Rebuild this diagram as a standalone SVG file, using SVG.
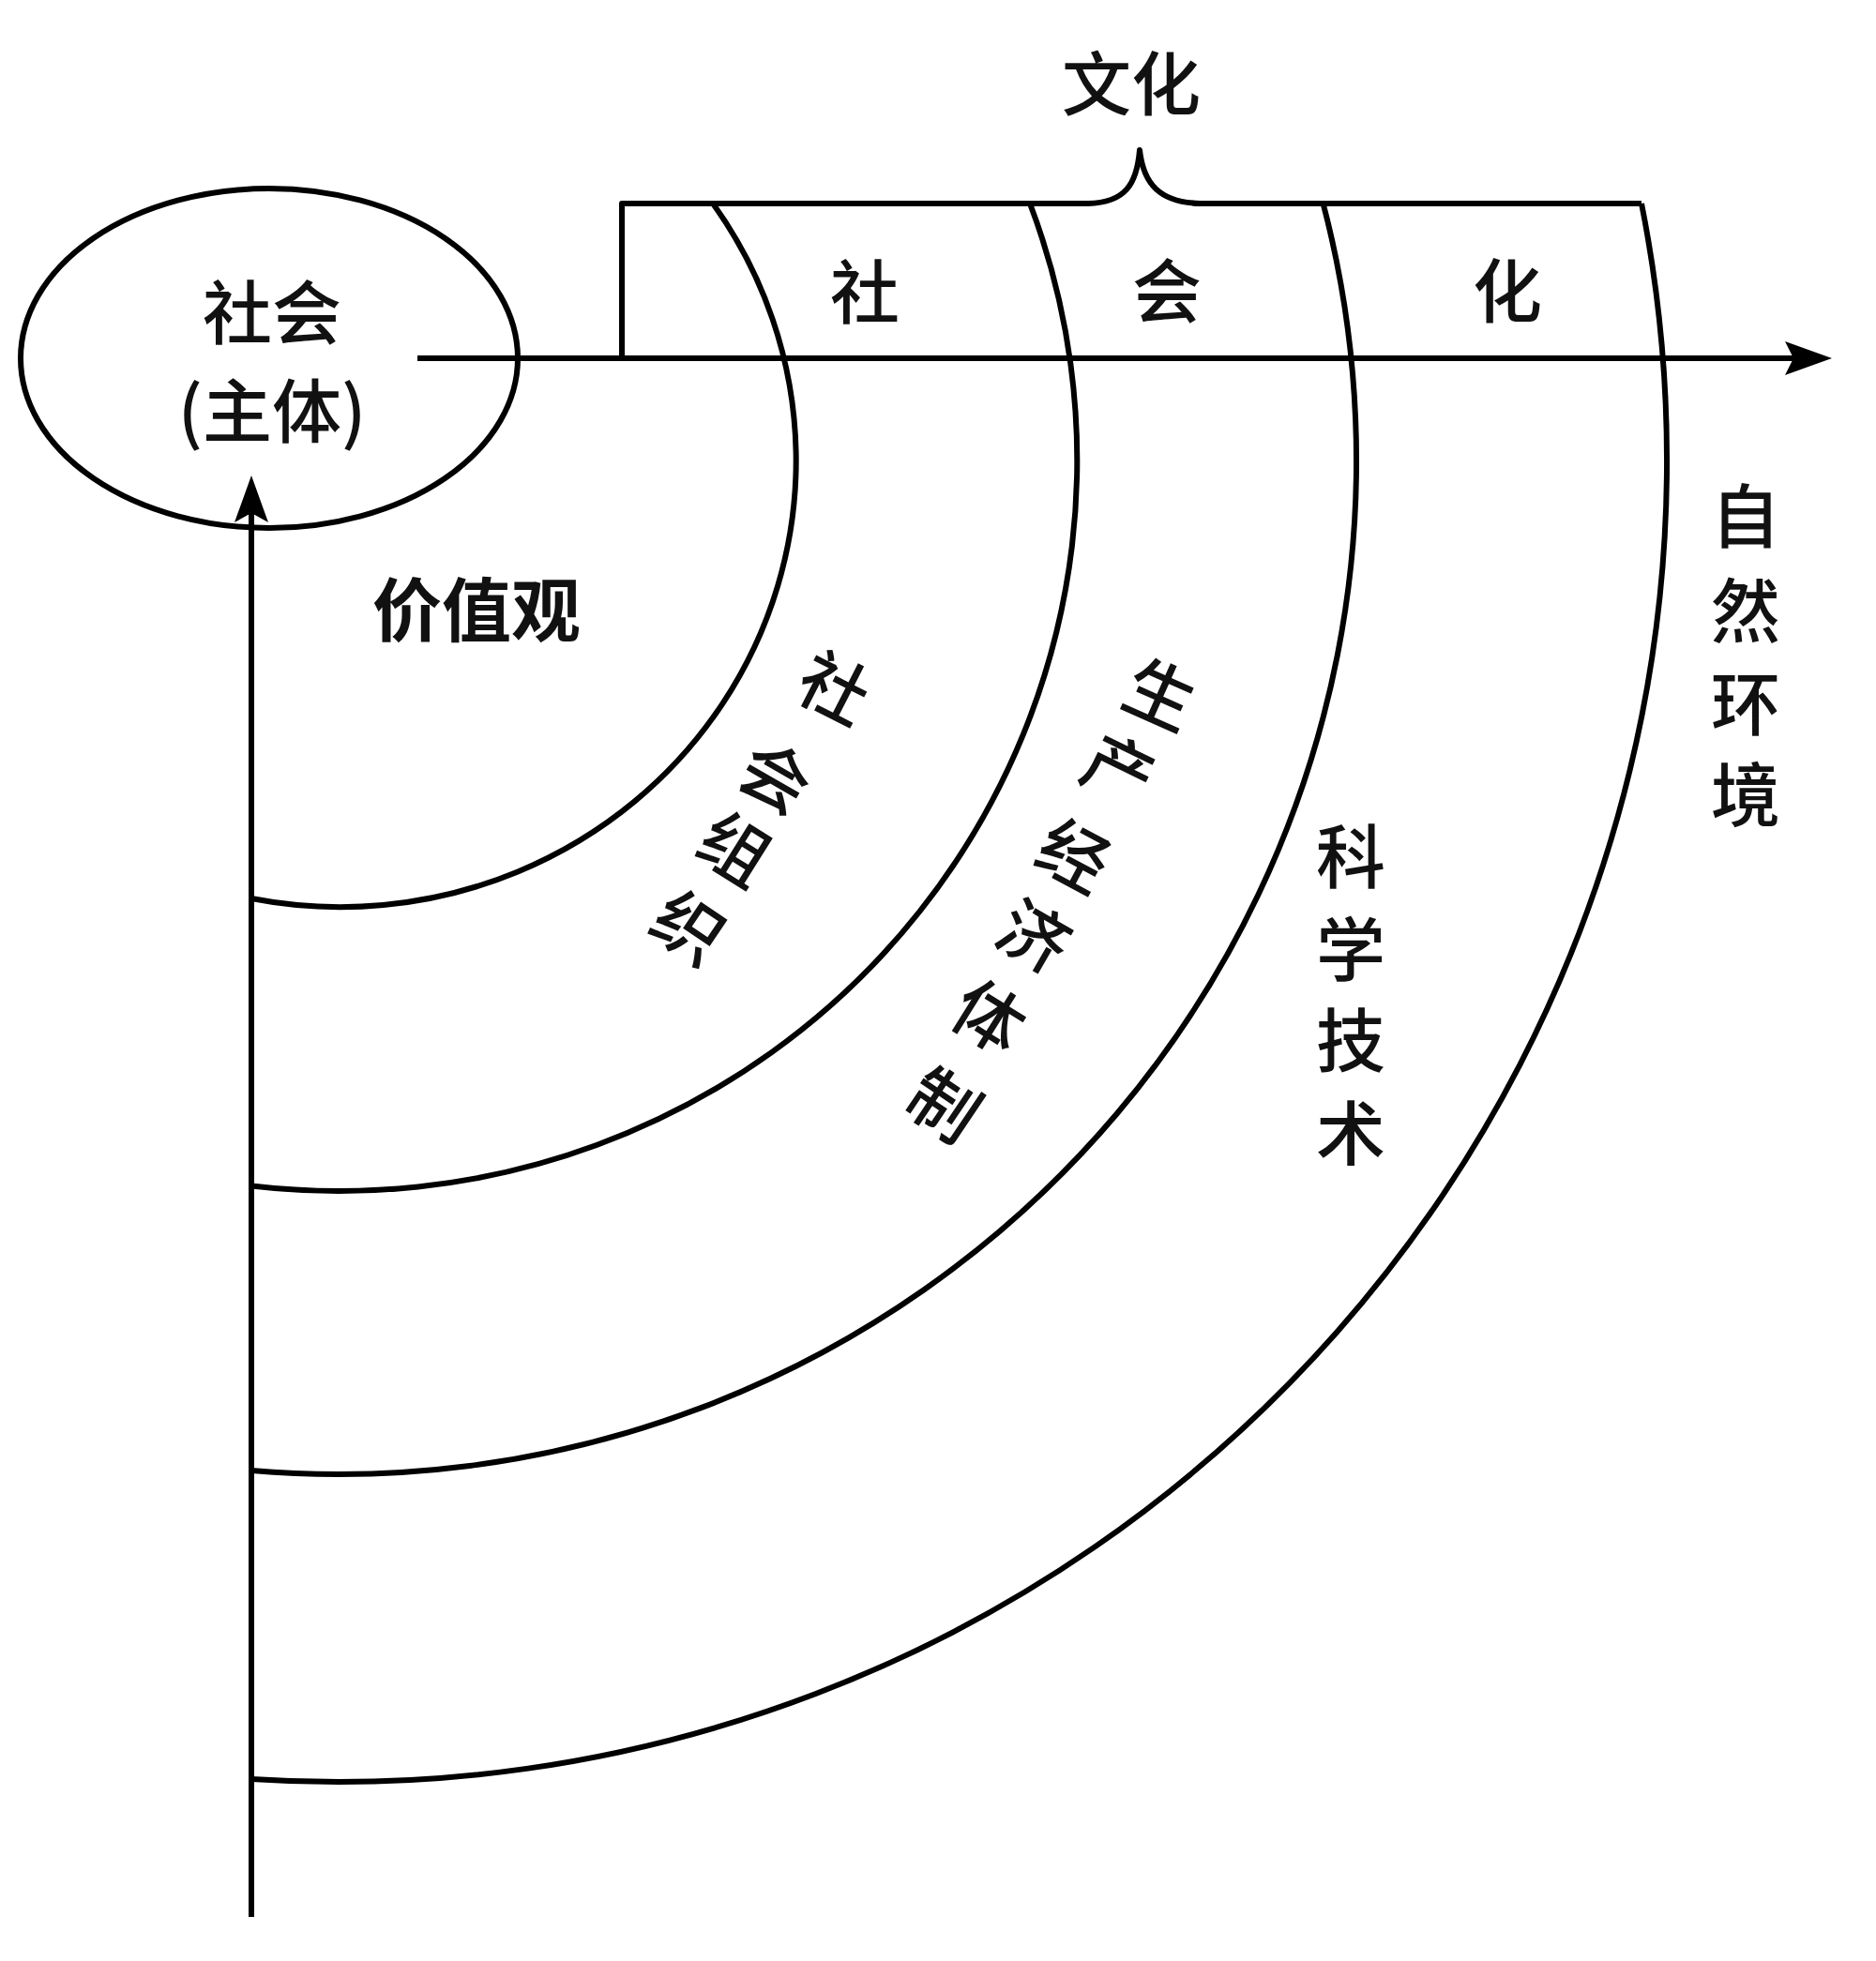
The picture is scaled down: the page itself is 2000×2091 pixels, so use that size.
<svg xmlns="http://www.w3.org/2000/svg" width="2000" height="2091" viewBox="0 0 2000 2091">
<style>
.ln{fill:none;stroke:#000;stroke-width:6;stroke-linecap:butt;stroke-linejoin:round}
.ah{fill:#000;stroke:none}
.t{font-family:"Noto Sans CJK SC","Noto Sans",sans-serif;font-size:74px;fill:#111;text-anchor:middle;dominant-baseline:central;font-weight:500}
.b{font-weight:700}
</style>
<rect width="2000" height="2091" fill="#fff"/>
<g id="connectors">
<path id="h-axis" class="ln" d="M445,382 H1912"/>
<polygon class="ah" points="1953,382 1903,364 1912,382 1903,400"/>
<path id="v-axis" class="ln" d="M268,2044 V547"/>
<polygon class="ah" points="268,507 250,557 268,547 286,557"/>
<path id="bracket" class="ln" d="M663,382 V217 H1160 C1200,216 1212,196 1215,160 C1219,196 1236,216 1280,217 H1750"/>
<path id="arc1" class="ln" d="M760,217 A486,476 0 0 1 268,958"/>
<path id="arc2" class="ln" d="M1098,217 A787,779 0 0 1 268,1264.5"/>
<path id="arc3" class="ln" d="M1410.6,217 A1085,1081 0 0 1 268,1568"/>
<path id="arc4" class="ln" d="M1750,217 A1416,1409 0 0 1 268,1897"/>
</g>
<g id="subject">
<ellipse class="ln" cx="287" cy="382" rx="265" ry="181"/>
<text class="t" x="290" y="328" font-size="72">社会</text>
<text class="t" x="290" y="433" font-size="72">(主体)</text>
</g>
<g id="culture-label">
<text class="t" x="1206" y="84" font-size="76">文化</text>
</g>
<g id="social-culture">
<text class="t" x="922" y="306">社</text>
<text class="t" x="1244" y="305">会</text>
<text class="t" x="1607" y="305">化</text>
</g>
<g id="values">
<text class="t b" x="508" y="645" font-size="76">价值观</text>
</g>
<g id="social-organization">
<text class="t" transform="translate(892,729) rotate(27)">社</text>
<text class="t" transform="translate(829,824) rotate(30)">会</text>
<text class="t" transform="translate(786,901) rotate(32)">组</text>
<text class="t" transform="translate(737,985) rotate(34)">织</text>
</g>
<g id="economy">
<text class="t" transform="translate(1239,736) rotate(24)">生</text>
<text class="t" transform="translate(1195,816) rotate(26)">产</text>
<text class="t" transform="translate(1147,908) rotate(28)">经</text>
<text class="t" transform="translate(1105,994) rotate(30)">济</text>
<text class="t" transform="translate(1057,1080) rotate(32)">体</text>
<text class="t" transform="translate(1009,1174) rotate(34)">制</text>
</g>
<g id="science">
<text class="t" x="1440" y="908">科</text>
<text class="t" x="1440" y="1007">学</text>
<text class="t" x="1440" y="1104">技</text>
<text class="t" x="1440" y="1203">术</text>
</g>
<g id="nature">
<text class="t" x="1861" y="545">自</text>
<text class="t" x="1861" y="646">然</text>
<text class="t" x="1861" y="745">环</text>
<text class="t" x="1861" y="842">境</text>
</g>
</svg>
